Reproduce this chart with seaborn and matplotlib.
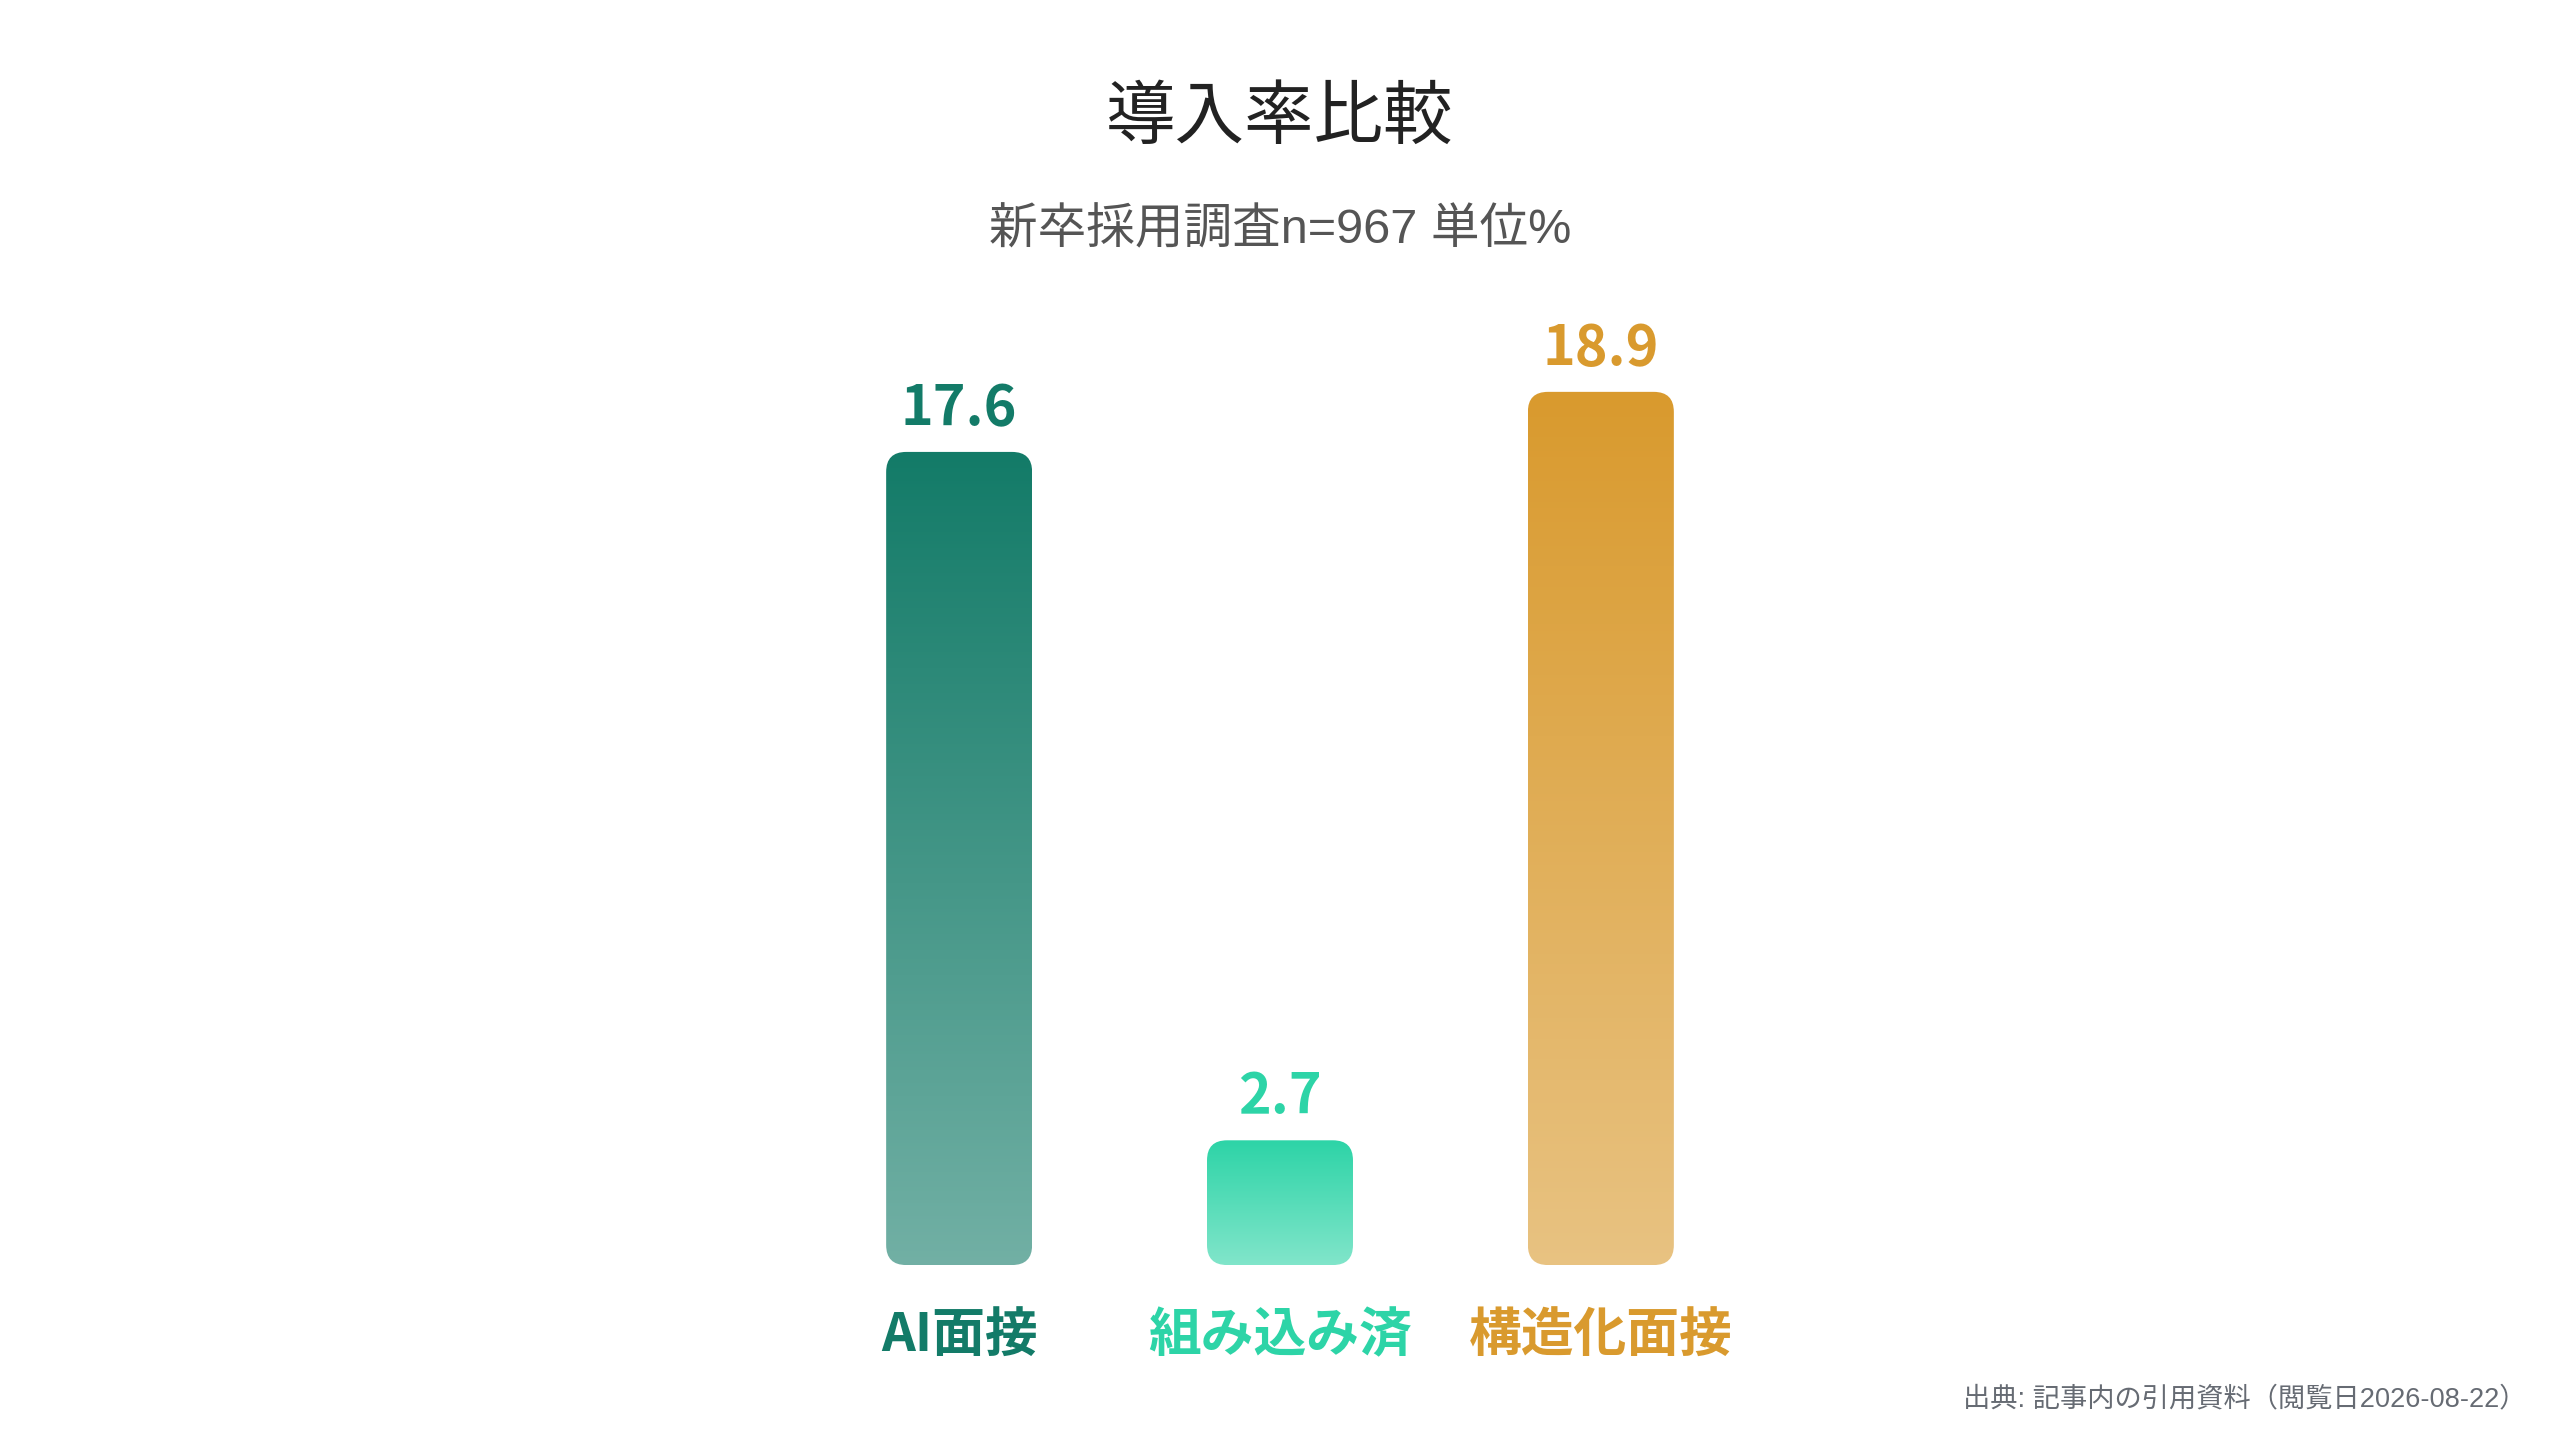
import matplotlib
matplotlib.use("Agg")
import matplotlib.pyplot as plt
import numpy as np
import pandas as pd
import seaborn as sns
from matplotlib.colors import LinearSegmentedColormap, to_rgb
from matplotlib.patches import FancyBboxPatch

# data
categories = ["AI面接", "組み込み済", "構造化面接"]
values = [17.6, 2.7, 18.9]
colors = ["#137B68", "#2DD4A7", "#D99A2E"]

title = "導入率比較"
subtitle = "新卒採用調査n=967 単位%"
source = "出典: 記事内の引用資料（閲覧日2026-08-22）"

sns.set_theme(style="white")
plt.rcParams["font.family"] = ["Noto Sans CJK JP", "DejaVu Sans"]
mixed = ["Liberation Sans", "Noto Sans CJK JP", "DejaVu Sans"]

df = pd.DataFrame({"category": categories, "value": values})

fig = plt.figure(figsize=(12.8, 7.2), dpi=200)
ax = fig.add_axes([0.312, 0.1215, 0.376, 0.66])

sns.barplot(data=df, x="category", y="value", hue="category",
            palette=colors, width=0.455, legend=False, ax=ax)

ax.set_xlim(-0.5, 2.5)
ymax = 0.66 * 1440 / 46.2
ax.set_ylim(0, ymax)
sns.despine(ax=ax, left=True, bottom=True)
ax.set_yticks([])
ax.set_xlabel("")
ax.set_ylabel("")

# px per data unit, used to keep the corner rounding circular
fig.canvas.draw()
bbox = ax.get_window_extent()
px_x = bbox.width / 3.0
px_y = bbox.height / ymax
radius_px = 20
rx = radius_px / px_x
aspect = px_x / px_y

for bar, col in zip(ax.patches, colors):
    x0, y0 = bar.get_x(), bar.get_y()
    w, h = bar.get_width(), bar.get_height()
    bar.set_visible(False)
    r = min(rx, w / 2, h / aspect / 2)
    shape = FancyBboxPatch((x0, y0), w, h,
                           boxstyle=f"round,pad=0,rounding_size={r}",
                           mutation_aspect=aspect, facecolor="none",
                           edgecolor="none", transform=ax.transData)
    ax.add_patch(shape)
    base = np.array(to_rgb(col))
    light = base * 0.6 + np.ones(3) * 0.4
    cmap = LinearSegmentedColormap.from_list("g", [light, base])
    grad = np.linspace(0, 1, 256).reshape(-1, 1)
    im = ax.imshow(grad, extent=(x0, x0 + w, y0, y0 + h), origin="lower",
                   cmap=cmap, aspect="auto", interpolation="bicubic", zorder=2)
    im.set_clip_path(shape)
    ax.annotate(f"{bar.get_height():.1f}", (x0 + w / 2, y0 + h),
                xytext=(0, 15.5), textcoords="offset points",
                ha="center", va="center", fontsize=20, fontweight="bold",
                color=col)

ax.set_xlim(-0.5, 2.5)
ax.set_ylim(0, ymax)

ax.set_xticks(range(len(categories)))
ax.set_xticklabels(categories, fontsize=19, fontweight="bold")
for lbl, col in zip(ax.get_xticklabels(), colors):
    lbl.set_color(col)
ax.tick_params(axis="x", length=0, pad=16)

fig.text(0.5, 0.918, title, ha="center", va="center", fontsize=25,
         fontweight="normal", color="#222222")
fig.text(0.5, 0.840, subtitle, ha="center", va="center", fontsize=17.5,
         color="#555555", family=mixed)
fig.text(0.987, 0.028, source, ha="right", va="center", fontsize=9.8,
         color="#666b73", family=mixed)

fig.savefig("out.png", dpi=200, facecolor="white")
